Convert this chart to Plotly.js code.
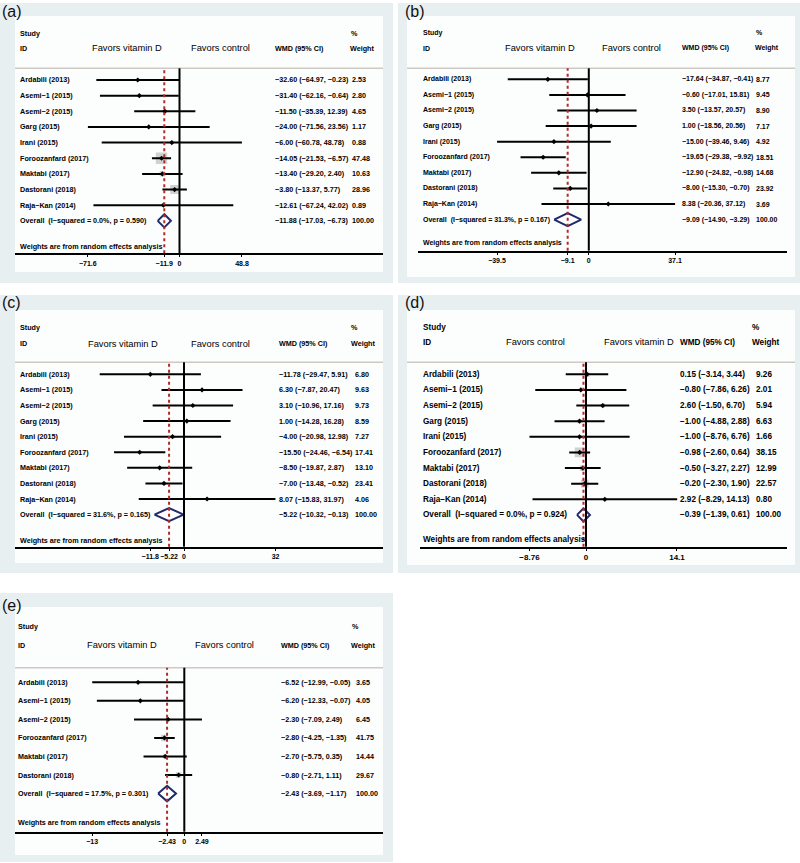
<!DOCTYPE html>
<html><head><meta charset="utf-8">
<script src="https://cdn.plot.ly/plotly-3.0.1.min.js"></script>
<style>html,body{margin:0;padding:0;background:#fff}#chart{width:800px;height:863px}</style>
</head><body><div id="chart"></div>
<script>
// ---------------- DATA ----------------
const studies9 = ['Ardabili (2013)','Asemi\u22121 (2015)','Asemi\u22122 (2015)','Garg (2015)','Irani (2015)','Foroozanfard (2017)','Maktabi (2017)','Dastorani (2018)','Raja\u2212Kan (2014)'];
const studies6 = ['Ardabili (2013)','Asemi\u22121 (2015)','Asemi\u22122 (2015)','Foroozanfard (2017)','Maktabi (2017)','Dastorani (2018)'];

const estA = [-32.60,-31.40,-11.50,-24.00,-6.00,-14.05,-13.40,-3.80,-12.61];
const loA  = [-64.97,-62.16,-35.39,-71.56,-60.78,-21.53,-29.20,-13.37,-67.24];
const hiA  = [-0.23,-0.64,12.39,23.56,48.78,-6.57,2.40,5.77,42.02];
const wA   = [2.53,2.80,4.65,1.17,0.88,47.48,10.63,28.96,0.89];
const ticksA = [-71.6,-11.9,0,48.8];

const estB = [-17.64,-0.60,3.50,1.00,-15.00,-19.65,-12.90,-8.00,8.38];
const loB  = [-34.87,-17.01,-13.57,-18.56,-39.46,-29.38,-24.82,-15.30,-20.36];
const hiB  = [-0.41,15.81,20.57,20.56,9.46,-9.92,-0.98,-0.70,37.12];
const wB   = [8.77,9.45,8.90,7.17,4.92,18.51,14.68,23.92,3.69];
const ticksB = [-39.5,-9.1,0,37.1];

const estC = [-11.78,6.30,3.10,1.00,-4.00,-15.50,-8.50,-7.00,8.07];
const loC  = [-29.47,-7.87,-10.96,-14.28,-20.98,-24.46,-19.87,-13.48,-15.83];
const hiC  = [5.91,20.47,17.16,16.28,12.98,-6.54,2.87,-0.52,31.97];
const wC   = [6.80,9.63,9.73,8.59,7.27,17.41,13.10,23.41,4.06];
const ticksC = [-11.8,-5.22,0,32];

const estD = [0.15,-0.80,2.60,-1.00,-1.00,-0.98,-0.50,-0.20,2.92];
const loD  = [-3.14,-7.86,-1.50,-4.88,-8.76,-2.60,-3.27,-2.30,-8.29];
const hiD  = [3.44,6.26,6.70,2.88,6.76,0.64,2.27,1.90,14.13];
const wD   = [9.26,2.01,5.94,6.63,1.66,38.15,12.99,22.57,0.80];
const ticksD = [-8.76,0,14.1];

const estE = [-6.52,-6.20,-2.30,-2.80,-2.70,-0.80];
const loE  = [-12.99,-12.33,-7.09,-4.25,-5.75,-2.71];
const hiE  = [-0.05,-0.07,2.49,-1.35,0.35,1.11];
const wE   = [3.65,4.05,6.45,41.75,14.44,29.67];
const ticksE = [-13,-2.43,0,2.49];

const overallEst = [-11.88,-9.09,-5.22,-0.39,-2.43];
const overallLo  = [-17.03,-14.90,-10.32,-1.39,-3.69];
const overallHi  = [-6.73,-3.29,-0.13,0.61,-1.17];
const i2Vals     = [0.0,31.3,31.6,0.0,17.5];
const pVals      = [0.590,0.167,0.165,0.924,0.301];
const panelLetters = ['(a)','(b)','(c)','(d)','(e)'];
const favVit = 'Favors vitamin D', favCtl = 'Favors control';

const panels = [
  {names:studies9, est:estA, lo:loA, hi:hiA, w:wA, ticks:ticksA, favL:favVit, favR:favCtl},
  {names:studies9, est:estB, lo:loB, hi:hiB, w:wB, ticks:ticksB, favL:favVit, favR:favCtl},
  {names:studies9, est:estC, lo:loC, hi:hiC, w:wC, ticks:ticksC, favL:favVit, favR:favCtl},
  {names:studies9, est:estD, lo:loD, hi:hiD, w:wD, ticks:ticksD, favL:favCtl, favR:favVit},
  {names:studies6, est:estE, lo:loE, hi:hiE, w:wE, ticks:ticksE, favL:favVit, favR:favCtl}
];

// ---------------- GEOMETRY (pixels) ----------------
const GEO = [
  {gray:[0,3,393,283], white:[15,16,383,272], lab:[2,12], xdom:[15,383], zero:179.5, scale:1.28, first:80, step:15.65, sep:68.3, axis:253.3, wts:246.7, studyY:33, idY:48, labelX:20, wmdX:275, wX:352, pctX:351, wHdrX:350, favL:126.7, favR:220, font:7.2, tfont:7, box:1.65},
  {gray:[398,3,800,283], white:[407,16,795,277], lab:[405,12], xdom:[418.3,786.7], zero:588.8, scale:2.324, first:79.3, step:15.59, sep:68.3, axis:250.7, wts:243.3, studyY:32.7, idY:48.3, labelX:423.3, wmdX:681.7, wX:756, pctX:756, wHdrX:755, favL:540, favR:631.7, font:7, tfont:7, box:0.7},
  {gray:[0,295,393,573], white:[15,310,383,563], lab:[2,302], xdom:[15,383.3], zero:184, scale:2.86, first:374.3, step:15.59, sep:362.3, axis:546.7, wts:540, studyY:327.3, idY:343.7, labelX:20, wmdX:279.3, wX:355, pctX:351, wHdrX:350.7, favL:122.7, favR:220, font:7.2, tfont:7, box:0.7},
  {gray:[398,295,800,573], white:[407,310,795,565], lab:[405,302], xdom:[420,786.7], zero:586, scale:6.453, first:374.3, step:15.625, sep:362.3, axis:546.7, wts:539, studyY:327.3, idY:342.3, labelX:423.3, wmdX:680, wX:756, pctX:751.7, wHdrX:751.7, favL:535, favR:639, font:8.2, tfont:8, box:1.6},
  {gray:[0,593,393,862], white:[15,607,383,855], lab:[2,605], xdom:[15,383], zero:184.3, scale:7.09, first:682.3, step:18.54, sep:667.7, axis:831.7, wts:822.3, studyY:626, idY:645, labelX:18.3, wmdX:281, wX:356, pctX:351.7, wHdrX:350.7, favL:121.7, favR:224, font:7.2, tfont:7, box:1.0}
];

const W = 800, H = 863;
const FONT = 'Liberation Sans, Arial, Helvetica, sans-serif';
const px = v => v / W, py = v => 1 - v / H;
const fmt = v => v.toFixed(2).replace('-', '\u2212');
const tickFmt = v => String(v).replace('-', '\u2212');

const traces = [], shapes = [], annotations = [];
const layout = {
  width: W, height: H, margin: {l:0, r:0, t:0, b:0},
  paper_bgcolor: '#ffffff', plot_bgcolor: 'rgba(0,0,0,0)',
  showlegend: false, font: {family: FONT, color: '#000'}
};

panels.forEach((P, k) => {
  const G = GEO[k];
  const sfx = k === 0 ? '' : String(k + 1);
  const xa = 'x' + sfx, ya = 'y' + sfx;
  const n = P.est.length;
  const idx = P.est.map((_, i) => i);
  const fB = {family: FONT, size: G.font, color: '#000', weight: 'bold'};
  const fH = {family: FONT, size: 9.3, color: '#000'};

  layout['xaxis' + sfx] = {
    domain: [px(G.xdom[0]), px(G.xdom[1])],
    range: [(G.xdom[0] - G.zero) / G.scale, (G.xdom[1] - G.zero) / G.scale],
    anchor: ya, showline: true, linecolor: '#000', linewidth: 2,
    ticks: 'outside', ticklen: 2, tickwidth: 1, tickcolor: '#000', tickangle: 0,
    tickmode: 'array', tickvals: P.ticks, ticktext: P.ticks.map(tickFmt),
    tickfont: {family: FONT, size: G.tfont, color: '#000', weight: 'bold'},
    showgrid: false, zeroline: false, fixedrange: true
  };
  layout['yaxis' + sfx] = {
    domain: [py(G.axis), py(G.sep)],
    range: [(G.axis - G.first) / G.step, (G.sep - G.first) / G.step],
    anchor: xa, visible: false, showgrid: false, zeroline: false, fixedrange: true
  };

  // panel backgrounds
  shapes.push({type:'rect', xref:'paper', yref:'paper', x0:px(G.gray[0]), x1:px(G.gray[2]), y0:py(G.gray[3]), y1:py(G.gray[1]), fillcolor:'#e8eff1', line:{width:0}, layer:'below'});
  shapes.push({type:'rect', xref:'paper', yref:'paper', x0:px(G.white[0]), x1:px(G.white[2]), y0:py(G.white[3]), y1:py(G.white[1]), fillcolor:'#fcfdfd', line:{width:0}, layer:'below'});
  // separator line
  shapes.push({type:'line', xref:'paper', yref:'paper', x0:px(G.white[0]), x1:px(G.white[2]), y0:py(G.sep), y1:py(G.sep), line:{color:'#cfc9c3', width:1.5}, layer:'below'});

  // weight boxes
  traces.push({type:'scatter', mode:'markers', x:P.est, y:idx, xaxis:xa, yaxis:ya, hoverinfo:'skip',
    marker:{symbol:'square', size:P.w.map(w => G.box * Math.sqrt(w)), color:'#bdbdbd', line:{width:0}}});
  // estimates with CI
  traces.push({type:'scatter', mode:'markers', x:P.est, y:idx, xaxis:xa, yaxis:ya, hoverinfo:'skip',
    error_x:{type:'data', symmetric:false, array:P.hi.map((h, i) => h - P.est[i]), arrayminus:P.lo.map((l, i) => P.est[i] - l), color:'#000', thickness:2, width:0},
    marker:{symbol:'diamond', size:4, color:'#000'}});
  // overall diamond
  const o = overallEst[k], ol = overallLo[k], oh = overallHi[k];
  traces.push({type:'scatter', mode:'lines', x:[ol, o, oh, o, ol], y:[n, n - 0.42, n, n + 0.42, n], xaxis:xa, yaxis:ya,
    fill:'toself', fillcolor:'#ffffff', line:{color:'#1f2a6b', width:2}, hoverinfo:'skip'});

  // zero line and overall dotted line
  shapes.push({type:'line', xref:xa, yref:'paper', x0:0, x1:0, y0:py(G.axis), y1:py(G.sep), line:{color:'#000', width:2}});
  shapes.push({type:'line', xref:xa, yref:'paper', x0:o, x1:o, y0:py(G.axis), y1:py(G.sep), line:{color:'#b32a2a', width:2, dash:'dot'}});

  const ann = (x, y, text, font, xanchor, yref) => annotations.push({
    xref:'paper', yref: yref || 'paper', x, y, text, font, xanchor: xanchor || 'left', yanchor:'middle',
    showarrow:false, borderpad:0, borderwidth:0
  });

  // study rows
  P.names.forEach((name, i) => {
    ann(px(G.labelX), i, name, fB, 'left', ya);
    ann(px(G.wmdX), i, fmt(P.est[i]) + ' (' + fmt(P.lo[i]) + ', ' + fmt(P.hi[i]) + ')', fB, 'left', ya);
    ann(px(G.wX), i, P.w[i].toFixed(2), fB, 'left', ya);
  });
  // overall row
  ann(px(G.labelX), n, 'Overall\u00a0\u00a0(I\u2212squared = ' + i2Vals[k].toFixed(1) + '%, p = ' + pVals[k].toFixed(3) + ')', fB, 'left', ya);
  ann(px(G.wmdX), n, fmt(o) + ' (' + fmt(ol) + ', ' + fmt(oh) + ')', fB, 'left', ya);
  ann(px(G.wX), n, '100.00', fB, 'left', ya);
  ann(px(G.labelX), py(G.wts), 'Weights are from random effects analysis', fB, 'left');

  // headers
  ann(px(G.labelX), py(G.studyY), 'Study', fB, 'left');
  ann(px(G.labelX), py(G.idY), 'ID', fB, 'left');
  ann(px(G.favL), py(G.idY), P.favL, fH, 'center');
  ann(px(G.favR), py(G.idY), P.favR, fH, 'center');
  ann(px(G.wmdX), py(G.idY), 'WMD (95% CI)', fB, 'left');
  ann(px(G.pctX), py(G.studyY), '%', fB, 'left');
  ann(px(G.wHdrX), py(G.idY), 'Weight', fB, 'left');
  // panel letter
  ann(px(G.lab[0]), py(G.lab[1]), panelLetters[k], {family: FONT, size: 16, color: '#111'}, 'left');
});

layout.shapes = shapes;
layout.annotations = annotations;
Plotly.newPlot('chart', traces, layout, {staticPlot: true, displayModeBar: false});
</script>
</body></html>
